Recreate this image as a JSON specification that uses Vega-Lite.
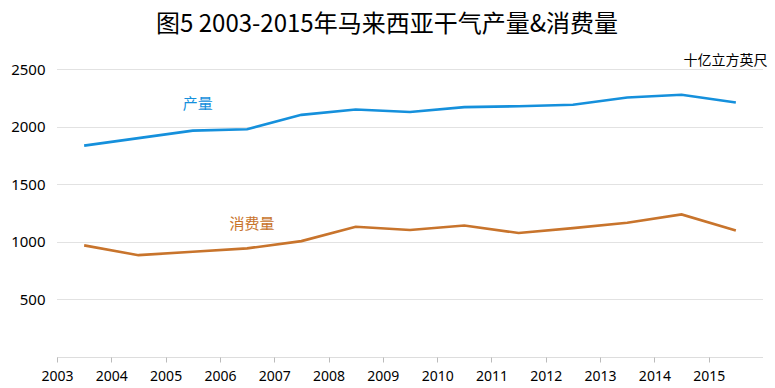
{
  "$schema": "https://vega.github.io/schema/vega-lite/v6.json",
  "width": 706,
  "height": 288,
  "autosize": "none",
  "padding": {"left": 57, "top": 69, "right": 12, "bottom": 31},
  "background": "white",
  "title": {
    "text": "图5 2003-2015年马来西亚干气产量&消费量",
    "font": "Noto Sans CJK SC",
    "fontSize": 24,
    "fontWeight": "normal",
    "color": "#000000",
    "anchor": "middle",
    "dx": -23,
    "offset": 16
  },
  "config": {"view": {"stroke": null}},
  "datasets": {
    "series": [
      {"year": 2003, "series": "产量", "value": 1835},
      {"year": 2004, "series": "产量", "value": 1900},
      {"year": 2005, "series": "产量", "value": 1965},
      {"year": 2006, "series": "产量", "value": 1977},
      {"year": 2007, "series": "产量", "value": 2102},
      {"year": 2008, "series": "产量", "value": 2148},
      {"year": 2009, "series": "产量", "value": 2127},
      {"year": 2010, "series": "产量", "value": 2169},
      {"year": 2011, "series": "产量", "value": 2177},
      {"year": 2012, "series": "产量", "value": 2189},
      {"year": 2013, "series": "产量", "value": 2252},
      {"year": 2014, "series": "产量", "value": 2276},
      {"year": 2015, "series": "产量", "value": 2209},
      {"year": 2003, "series": "消费量", "value": 969},
      {"year": 2004, "series": "消费量", "value": 884},
      {"year": 2005, "series": "消费量", "value": 913},
      {"year": 2006, "series": "消费量", "value": 943},
      {"year": 2007, "series": "消费量", "value": 1006},
      {"year": 2008, "series": "消费量", "value": 1130},
      {"year": 2009, "series": "消费量", "value": 1102},
      {"year": 2010, "series": "消费量", "value": 1142},
      {"year": 2011, "series": "消费量", "value": 1076},
      {"year": 2012, "series": "消费量", "value": 1119},
      {"year": 2013, "series": "消费量", "value": 1165},
      {"year": 2014, "series": "消费量", "value": 1238},
      {"year": 2015, "series": "消费量", "value": 1099}
    ],
    "labels": [
      {"year": 2005, "series": "产量", "value": 2197, "label": "产量"},
      {"year": 2006, "series": "消费量", "value": 1154, "label": "消费量"}
    ]
  },
  "layer": [
    {
      "data": {"name": "series"},
      "mark": {"type": "line", "strokeWidth": 2.6},
      "encoding": {
        "x": {
          "field": "year",
          "type": "ordinal",
          "scale": {"type": "point", "padding": 0.5},
          "axis": {
            "title": null,
            "labelAngle": 0,
            "labelFont": "Noto Sans",
            "labelFontSize": 14,
            "labelColor": "#000000",
            "labelPadding": 7,
            "tickOffset": -27.15,
            "tickSize": 5,
            "tickColor": "#bbbbbb",
            "domainColor": "#bbbbbb",
            "domainDash": [1, 1],
            "grid": false
          }
        },
        "y": {
          "field": "value",
          "type": "quantitative",
          "scale": {"domain": [0, 2500], "nice": false, "zero": true},
          "axis": {
            "values": [500, 1000, 1500, 2000, 2500],
            "format": "d",
            "domain": false,
            "ticks": false,
            "tickSize": 0,
            "labelFont": "Noto Sans",
            "labelFontSize": 15,
            "labelColor": "#000000",
            "labelPadding": 12,
            "gridColor": "#c4c4c4",
            "gridDash": [1, 1],
            "title": "十亿立方英尺",
            "titleFont": "Noto Sans CJK SC",
            "titleFontSize": 14,
            "titleFontWeight": "normal",
            "titleColor": "#000000",
            "titleAngle": 0,
            "titleAlign": "right",
            "titleBaseline": "alphabetic",
            "titleX": 710,
            "titleY": -5
          }
        },
        "color": {
          "field": "series",
          "type": "nominal",
          "scale": {"domain": ["产量", "消费量"], "range": ["#1590dc", "#c8742c"]},
          "legend": null
        }
      }
    },
    {
      "data": {"name": "labels"},
      "mark": {"type": "text", "font": "Noto Sans CJK SC", "fontSize": 15, "dx": 5},
      "encoding": {
        "x": {"field": "year", "type": "ordinal"},
        "y": {"field": "value", "type": "quantitative"},
        "text": {"field": "label"},
        "color": {"field": "series", "type": "nominal", "legend": null}
      }
    }
  ]
}
